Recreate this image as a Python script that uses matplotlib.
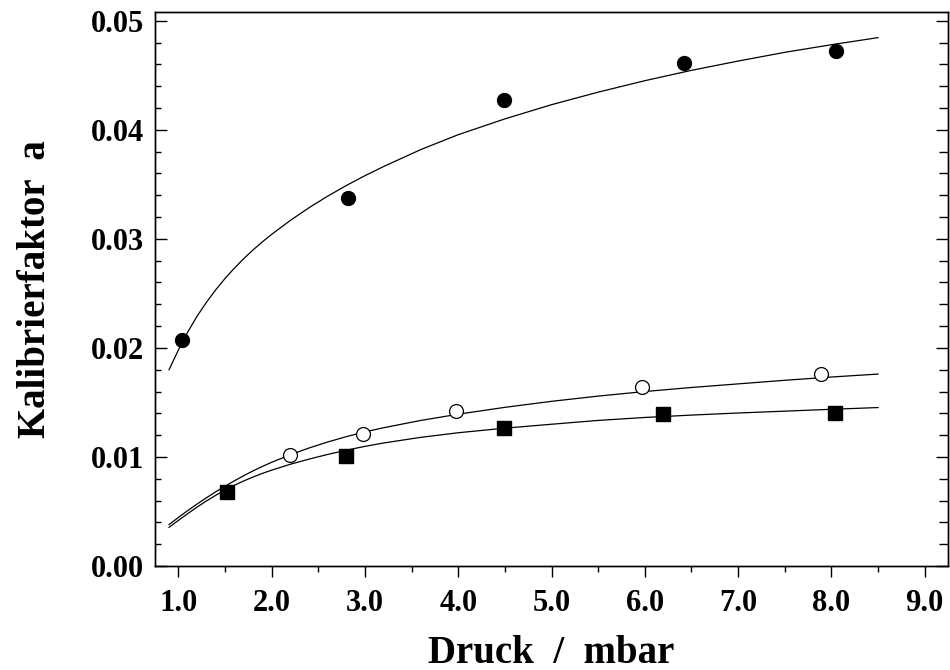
import numpy as np
import matplotlib
matplotlib.use("Agg")
import matplotlib.pyplot as plt
from matplotlib.ticker import MultipleLocator, FormatStrFormatter

# Messpunkte
p_voll = [1.04, 2.82, 4.49, 6.42, 8.05]
a_voll = [0.0207, 0.0337, 0.0427, 0.0461, 0.0472]

p_offen = [2.20, 2.98, 3.98, 5.97, 7.89]
a_offen = [0.0102, 0.0121, 0.0142, 0.0164, 0.0176]

p_quadrat = [1.52, 2.80, 4.49, 6.19, 8.04]
a_quadrat = [0.0068, 0.0101, 0.0127, 0.0139, 0.0140]

# Fitkurven
p_fit = [0.9, 1.0, 1.1, 1.2, 1.3, 1.4, 1.5, 1.6, 1.7, 1.8, 1.9, 2.0,
         2.2, 2.4, 2.6, 2.8, 3.0, 3.2, 3.6, 4.0, 4.5, 5.0, 5.5, 6.0,
         6.5, 7.0, 7.5, 8.0, 8.5]
a_fit_voll = [0.01800, 0.01980, 0.02145, 0.02290, 0.02417, 0.02532, 0.02636, 0.02731,
              0.02818, 0.02898, 0.02972, 0.03041, 0.03169, 0.03285, 0.03391, 0.03489,
              0.03579, 0.03663, 0.03819, 0.03955, 0.04100, 0.04230, 0.04345, 0.04450,
              0.04545, 0.04630, 0.04710, 0.04780, 0.04845]
a_fit_offen = [0.00380, 0.00445, 0.00508, 0.00568, 0.00625, 0.00680, 0.00732, 0.00781,
               0.00828, 0.00872, 0.00913, 0.00951, 0.01020, 0.01082, 0.01137, 0.01186,
               0.01230, 0.01268, 0.01335, 0.01392, 0.01455, 0.01510, 0.01558, 0.01600,
               0.01637, 0.01670, 0.01703, 0.01733, 0.01760]
a_fit_quadrat = [0.00355, 0.00418, 0.00480, 0.00540, 0.00596, 0.00648, 0.00696, 0.00740,
                 0.00780, 0.00816, 0.00849, 0.00879, 0.00933, 0.00980, 0.01023, 0.01062,
                 0.01097, 0.01128, 0.01180, 0.01222, 0.01264, 0.01300, 0.01335, 0.01362,
                 0.01384, 0.01403, 0.01420, 0.01437, 0.01453]

plt.rcParams['font.family'] = ['Liberation Serif', 'DejaVu Serif']
plt.rcParams['font.weight'] = 'bold'

fig = plt.figure(figsize=(9.5, 6.7), dpi=100)
ax = fig.add_axes([0.1632, 0.1552, 0.8347, 0.8269])

# Kurven
for a_fit in (a_fit_voll, a_fit_offen, a_fit_quadrat):
    ax.plot(p_fit, a_fit, color='black', linewidth=0.9, zorder=2)

# Punkte
ax.plot(p_voll, a_voll, 'o', color='black', markersize=10, zorder=3)
ax.plot(p_offen, a_offen, 'o', markerfacecolor='white', markeredgecolor='black',
        markeredgewidth=0.9, markersize=10, zorder=3)
ax.plot(p_quadrat, a_quadrat, 's', color='black', markersize=10, zorder=3)

ax.set_xlim(0.75, 9.25)
ax.set_ylim(0.0, 0.0508)

ax.xaxis.set_major_locator(MultipleLocator(1.0))
ax.xaxis.set_minor_locator(MultipleLocator(0.5))
ax.yaxis.set_major_locator(MultipleLocator(0.01))
ax.yaxis.set_minor_locator(MultipleLocator(0.002))
ax.xaxis.set_major_formatter(FormatStrFormatter('%.1f'))
ax.yaxis.set_major_formatter(FormatStrFormatter('%.2f'))

ax.tick_params(axis='x', which='major', direction='out', length=8, width=1, pad=8.5, labelsize=22)
ax.tick_params(axis='x', which='minor', direction='out', length=4.3, width=1)
ax.tick_params(axis='y', which='major', direction='in', length=8.6, width=1, pad=8, labelsize=22)
ax.tick_params(axis='y', which='minor', direction='in', length=4.3, width=1)
ax.tick_params(top=False, which='both')

# rechte Achse mit Ticks nach innen
ax2 = ax.twinx()
ax2.set_ylim(ax.get_ylim())
ax2.yaxis.set_major_locator(MultipleLocator(0.01))
ax2.yaxis.set_minor_locator(MultipleLocator(0.002))
ax2.tick_params(axis='y', which='major', direction='in', length=8.6, width=1, labelright=False)
ax2.tick_params(axis='y', which='minor', direction='in', length=6.5, width=1)

for a in (ax, ax2):
    for s in a.spines.values():
        s.set_linewidth(1.0)

ax.set_xlabel('Druck  /  mbar', fontsize=28, fontweight='bold', labelpad=12)
ax.set_ylabel('Kalibrierfaktor  a', fontsize=28, fontweight='bold')
ax.yaxis.set_label_coords(-0.128, 0.5)

fig.savefig('out.png', dpi=100)
